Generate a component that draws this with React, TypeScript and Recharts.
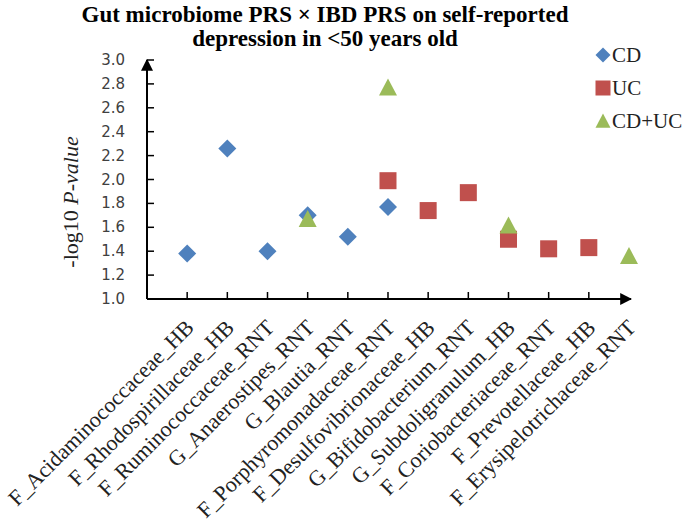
import React from 'react';
import { ScatterChart, Scatter, XAxis, YAxis } from 'recharts';

const categories = [
  'F_Acidaminococcaceae_HB',
  'F_Rhodospirillaceae_HB',
  'F_Ruminococcaceae_RNT',
  'G_Anaerostipes_RNT',
  'G_Blautia_RNT',
  'F_Porphyromonadaceae_RNT',
  'F_Desulfovibrionaceae_HB',
  'G_Bifidobacterium_RNT',
  'G_Subdoligranulum_HB',
  'F_Coriobacteriaceae_RNT',
  'F_Prevotellaceae_HB',
  'F_Erysipelotrichaceae_RNT',
];

const cdValues = [1.38, 2.26, 1.4, 1.7, 1.52, 1.77, null, null, null, null, null, null];
const ucValues = [null, null, null, null, null, 1.99, 1.74, 1.89, 1.5, 1.42, 1.43, null];
const cdUcValues = [null, null, null, 1.67, null, 2.77, null, null, 1.615, null, null, 1.36];

const yTicks = [1.0, 1.2, 1.4, 1.6, 1.8, 2.0, 2.2, 2.4, 2.6, 2.8, 3.0];
const xTicks = categories.map((_, i) => i + 1);

const colors = { cd: '#4F81BD', uc: '#C0504D', cdUc: '#9BBB59' };

const toPoints = (values: (number | null)[]) =>
  values
    .map((v, i) => (v == null ? null : { x: i + 1, y: v }))
    .filter((p) => p != null);

const serif = '"Liberation Serif", "Times New Roman", serif';

function Diamond({ cx, cy, r = 9, fill }: any) {
  return <polygon points={`${cx},${cy - r} ${cx + r},${cy} ${cx},${cy + r} ${cx - r},${cy}`} fill={fill} />;
}

function Square({ cx, cy, r = 8.5, fill }: any) {
  return <rect x={cx - r} y={cy - r} width={r * 2} height={r * 2} fill={fill} />;
}

function Triangle({ cx, cy, r = 9, fill }: any) {
  return <polygon points={`${cx},${cy - r} ${cx + r},${cy + r * 0.9} ${cx - r},${cy + r * 0.9}`} fill={fill} />;
}

function YTick({ x, y, payload }: any) {
  return (
    <g>
      {payload.value > 1 && <line x1={x} x2={x + 7} y1={y} y2={y} stroke="#000" strokeWidth={1.5} />}
      <text x={x - 22} y={y + 5} textAnchor="end" fontSize={15} fontFamily="DejaVu Sans" fill="#404040">
        {Number(payload.value).toFixed(1)}
      </text>
    </g>
  );
}

function XTick({ x, y, payload }: any) {
  const tx = x + 8;
  const ty = y + 30;
  return (
    <g>
      {payload.value < 12 && <line x1={x} x2={x} y1={y} y2={y - 7} stroke="#000" strokeWidth={1.5} />}
      <text
        x={tx}
        y={ty}
        transform={`rotate(-45 ${tx} ${ty})`}
        textAnchor="end"
        fontSize={22}
        fontFamily={serif}
        fill="#222"
      >
        {categories[payload.value - 1]}
      </text>
    </g>
  );
}

const legendItems = [
  { label: 'CD', Shape: Diamond, color: colors.cd, y: 55 },
  { label: 'UC', Shape: Square, color: colors.uc, y: 88 },
  { label: 'CD+UC', Shape: Triangle, color: colors.cdUc, y: 121 },
];

export default function App() {
  return (
    <div style={{ position: 'relative', width: 688, height: 524 }}>
      <style>{'body{margin:0}'}</style>
      <svg width={0} height={0} style={{ position: 'absolute' }}>
        <defs>
          <marker
            id="axisArrow"
            viewBox="0 0 10 10"
            refX="9"
            refY="5"
            markerWidth="12"
            markerHeight="12"
            markerUnits="userSpaceOnUse"
            orient="auto-start-reverse"
          >
            <path d="M0,0 L10,5 L0,10 z" fill="#000" />
          </marker>
        </defs>
      </svg>
      <ScatterChart width={688} height={524} margin={{ top: 60, right: 57, bottom: 0, left: 0 }}>
        <XAxis
          type="number"
          dataKey="x"
          domain={[0, 12.05]}
          ticks={xTicks}
          interval={0}
          height={225}
          tickSize={0}
          tickMargin={0}
          axisLine={{ stroke: '#000', strokeWidth: 2, markerEnd: 'url(#axisArrow)' }}
          tick={<XTick />}
        />
        <YAxis
          type="number"
          dataKey="y"
          domain={[1, 3]}
          ticks={yTicks}
          interval={0}
          width={147}
          tickSize={0}
          tickMargin={0}
          axisLine={{ stroke: '#000', strokeWidth: 2, markerStart: 'url(#axisArrow)' }}
          tick={<YTick />}
        />
        <Scatter
          name="CD"
          data={toPoints(cdValues)}
          fill={colors.cd}
          isAnimationActive={false}
          shape={(p: any) => <Diamond cx={p.cx} cy={p.cy} fill={colors.cd} />}
        />
        <Scatter
          name="UC"
          data={toPoints(ucValues)}
          fill={colors.uc}
          isAnimationActive={false}
          shape={(p: any) => <Square cx={p.cx} cy={p.cy} fill={colors.uc} />}
        />
        <Scatter
          name="CD+UC"
          data={toPoints(cdUcValues)}
          fill={colors.cdUc}
          isAnimationActive={false}
          shape={(p: any) => <Triangle cx={p.cx} cy={p.cy} fill={colors.cdUc} />}
        />
      </ScatterChart>
      <svg width={688} height={524} style={{ position: 'absolute', left: 0, top: 0, pointerEvents: 'none' }}>
        <text x={325} y={22} textAnchor="middle" fontSize={23} fontWeight="bold" fontFamily={serif} fill="#000">
          Gut microbiome PRS × IBD PRS on self-reported
        </text>
        <text x={325} y={46} textAnchor="middle" fontSize={23} fontWeight="bold" fontFamily={serif} fill="#000">
          depression in &lt;50 years old
        </text>
        <text
          x={78}
          y={202}
          transform="rotate(-90 78 202)"
          textAnchor="middle"
          fontSize={22}
          fontFamily={serif}
          fill="#222"
        >
          -log10 <tspan fontStyle="italic">P-value</tspan>
        </text>
        {legendItems.map(({ label, Shape, color, y }) => (
          <g key={label}>
            <Shape cx={603} cy={y} r={7.5} fill={color} />
            <text x={612} y={y + 7} fontSize={21} fontFamily={serif} fill="#222">
              {label}
            </text>
          </g>
        ))}
      </svg>
    </div>
  );
}
